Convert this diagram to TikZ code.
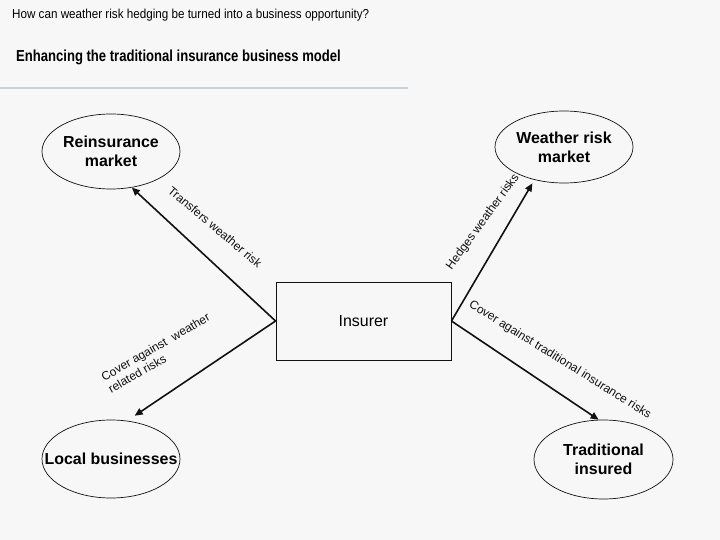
\documentclass[tikz,border=0pt]{standalone}
\usepackage{fontspec}
\setmainfont{Liberation Sans}
\newfontfamily\narrowsans[FakeStretch=0.9]{Liberation Sans}
\newfontfamily\narrowbold[FakeStretch=0.82]{Liberation Sans Bold}
\usepackage{tikz}
\usetikzlibrary{shapes.geometric, arrows.meta, positioning}
\definecolor{slidebg}{HTML}{F7F7F7}
\definecolor{rulegray}{HTML}{C9D1DB}
\definecolor{inkblack}{HTML}{111111}

\tikzset{
  market/.style={draw=inkblack, ellipse, line width=0.7bp, inner sep=0pt, align=center,
    minimum width=138bp, font=\fontsize{16}{19}\selectfont\bfseries},
  flowarrow/.style={inkblack, line width=1.6bp, -{Triangle[length=8bp,width=7bp]}},
  flowlabel/.style={inkblack, inner sep=0pt, font=\fontsize{12}{14}\selectfont},
}

\begin{document}
\begin{tikzpicture}[x=1bp, y=-1bp]
  \fill[slidebg] (0,0) rectangle (720,540);

  % Slide heading
  \node[anchor=base west, inner sep=0pt, font=\fontsize{13}{13}\selectfont\narrowsans] (question) at (12,18.5) {How can weather risk hedging be turned into a business opportunity?};
  \node[anchor=base west, inner sep=0pt, font=\fontsize{16}{16}\selectfont\narrowbold] (heading) at (16,61.5) {Enhancing the traditional insurance business model};
  \fill[rulegray] (0,87.5) rectangle (408,88.7);

  % Parties
  \node[draw=inkblack, line width=0.9bp, minimum width=175bp, minimum height=78bp, font=\fontsize{16}{16}\selectfont] (insurer) at (363.5,321) {Insurer};
  \node[market, minimum height=75bp] (reins) at (111,151.5) {Reinsurance\\market};
  \node[market, minimum height=72bp] (wrm) at (564,147) {Weather risk\\market};
  \node[market, minimum height=78bp] (local) at (111,459) {\makebox[60bp]{Local businesses}};
  \node[market, minimum width=139bp, minimum height=79bp] (trad) at (603.5,459.5) {Traditional\\insured};

  % Risk flows
  \draw[flowarrow] (insurer.west) -- (reins.-60);
  \draw[flowarrow, shorten >=4bp] (insurer.east) -- (wrm.-132);
  \draw[flowarrow, shorten >=9bp] (insurer.west) -- (local.67);
  \draw[flowarrow] (insurer.east) -- (trad.97);

  % Flow labels
  \node[flowlabel, rotate=-40] (transfers) at (215,227) {Transfers weather risk};
  \node[flowlabel, rotate=54] (hedges) at (483,222) {Hedges weather risks};
  \node[flowlabel, rotate=30, align=left] (coverlocal) at (159,353) {Cover against\ \ weather\\related risks};
  \node[flowlabel, rotate=-32] (covertrad) at (560,360) {Cover against traditional insurance risks};
\end{tikzpicture}
\end{document}
